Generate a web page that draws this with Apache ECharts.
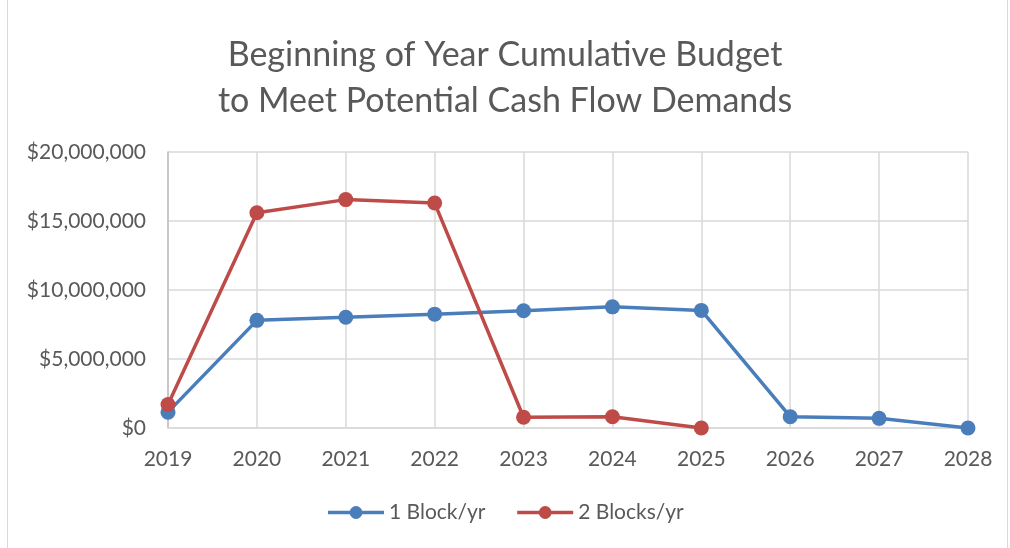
<!DOCTYPE html>
<html><head><meta charset="utf-8">
<script src="https://cdn.jsdelivr.net/npm/echarts@6/dist/echarts.min.js"></script>
<style>html,body{margin:0;padding:0;background:#fff}#c{width:1010px;height:548px}</style>
</head><body><div id="c"></div>
<script>
const years = ['2019','2020','2021','2022','2023','2024','2025','2026','2027','2028'];
const oneBlock = [1150000, 7800000, 8030000, 8250000, 8500000, 8780000, 8520000, 820000, 700000, 0];
const twoBlocks = [1700000, 15600000, 16550000, 16300000, 780000, 820000, 0, null, null, null];
const seriesNames = ['1 Block/yr', '2 Blocks/yr'];
const yTicks = [0, 5000000, 10000000, 15000000, 20000000];

const chart = echarts.init(document.getElementById('c'));
const font = 'Lato, "Open Sans", sans-serif';
function money(v){ return '$' + v.toString().replace(/\B(?=(\d{3})+(?!\d))/g, ','); }
chart.setOption({
  animation: false,
  backgroundColor: '#fff',
  graphic: [{type:'rect', shape:{x:7.5,y:-5,width:1000,height:560}, style:{fill:'none', stroke:'#d9d9d9', lineWidth:1}}],
  title: {
    text: 'Beginning of Year Cumulative Budget\nto Meet Potential Cash Flow Demands',
    left: 'center', top: 27,
    textStyle: {fontFamily: font, fontSize: 34, fontWeight: 'normal', color: '#595959', lineHeight: 46}
  },
  legend: {
    data: seriesNames, bottom: 20, left: 'center', itemWidth: 56, itemHeight: 16, itemGap: 30,
    lineStyle: {width: 3.5},
    textStyle: {fontFamily: font, fontSize: 21, color: '#595959'}
  },
  grid: {left: 168, right: 42, top: 152, bottom: 120, containLabel: false},
  xAxis: {
    type: 'category', data: years, boundaryGap: false,
    axisLine: {show: true, lineStyle: {color: '#d9d9d9', width: 1.5}},
    axisTick: {show: false},
    splitLine: {show: true, lineStyle: {color: '#d9d9d9', width: 1.5}},
    axisLabel: {fontFamily: font, fontSize: 21, color: '#595959', margin: 21}
  },
  yAxis: {
    type: 'value', min: 0, max: 20000000, interval: 5000000,
    axisLine: {show: true, lineStyle: {color: '#bfbfbf', width: 1.5}},
    axisTick: {show: false},
    splitLine: {lineStyle: {color: '#d9d9d9', width: 1.5}},
    axisLabel: {fontFamily: font, fontSize: 21, color: '#595959', margin: 22, formatter: money}
  },
  series: [
    {name: seriesNames[0], type: 'line', data: oneBlock, symbol: 'circle', symbolSize: 15,
     itemStyle: {color: '#4a7ebb'}, lineStyle: {width: 3.5, color: '#4a7ebb'}},
    {name: seriesNames[1], type: 'line', data: twoBlocks, symbol: 'circle', symbolSize: 15,
     itemStyle: {color: '#be4b48'}, lineStyle: {width: 3.5, color: '#be4b48'}}
  ]
});
</script></body></html>
